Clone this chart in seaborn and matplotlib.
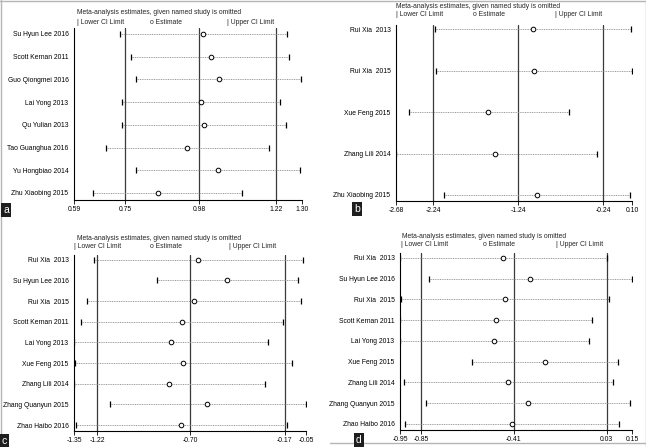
import matplotlib
matplotlib.use("Agg")
import matplotlib.pyplot as plt
from matplotlib.lines import Line2D
import seaborn as sns
import pandas as pd

sns.set_style("white")
plt.rcParams['font.family'] = ['Liberation Sans', 'DejaVu Sans']

W, H = 646, 447
FS = 4.9

# ---------------- data ----------------
studies_a = ["Su Hyun Lee 2016", "Scott Kernan 2011", "Guo Qiongmei 2016", "Lai Yong 2013",
             "Qu Yulian 2013", "Tao Guanghua 2016", "Yu Hongbiao 2014", "Zhu Xiaobing 2015"]
lower_a = [0.733, 0.769, 0.784, 0.741, 0.740, 0.689, 0.782, 0.650]
est_a = [0.992, 1.016, 1.040, 0.986, 0.996, 0.941, 1.037, 0.853]
upper_a = [1.253, 1.260, 1.297, 1.232, 1.251, 1.196, 1.294, 1.112]
ticks_a = [0.59, 0.75, 0.98, 1.22, 1.30]
ref_a = [0.75, 0.98, 1.22]

studies_b = ["Rui Xia  2013", "Rui Xia  2015", "Xue Feng 2015", "Zhang Lili 2014", "Zhu Xiaobing 2015"]
lower_b = [-2.221, -2.209, -2.523, -2.68, -2.111]
est_b = [-1.066, -1.059, -1.600, -1.514, -1.023]
upper_b = [0.092, 0.10, -0.646, -0.316, 0.077]
ticks_b = [-2.68, -2.24, -1.24, -0.24, 0.10]
ref_b = [-2.24, -1.24, -0.24]

studies_c = ["Rui Xia  2013", "Su Hyun Lee 2016", "Rui Xia  2015", "Scott Kernan 2011", "Lai Yong 2013",
             "Xue Feng 2015", "Zhang Lili 2014", "Zhang Quanyun 2015", "Zhao Haibo 2016"]
lower_c = [-1.236, -0.887, -1.277, -1.311, -1.35, -1.343, -1.35, -1.150, -1.341]
est_c = [-0.655, -0.493, -0.679, -0.745, -0.808, -0.739, -0.818, -0.603, -0.752]
upper_c = [-0.065, -0.093, -0.078, -0.177, -0.265, -0.130, -0.280, -0.05, -0.156]
ticks_c = [-1.35, -1.22, -0.70, -0.17, -0.05]
ref_c = [-1.22, -0.70, -0.17]

studies_d = ["Rui Xia  2013", "Su Hyun Lee 2016", "Rui Xia  2015", "Scott Kernan 2011", "Lai Yong 2013",
             "Xue Feng 2015", "Zhang Lili 2014", "Zhang Quanyun 2015", "Zhao Haibo 2016"]
lower_d = [-0.95, -0.814, -0.947, -0.95, -0.95, -0.609, -0.933, -0.825, -0.928]
est_d = [-0.460, -0.332, -0.452, -0.495, -0.506, -0.262, -0.436, -0.343, -0.421]
upper_d = [0.030, 0.15, 0.043, -0.038, -0.055, 0.082, 0.060, 0.141, 0.087]
ticks_d = [-0.95, -0.85, -0.41, 0.03, 0.15]
ref_d = [-0.85, -0.41, 0.03]

title_text = "Meta-analysis estimates, given named study is omitted"

fig = plt.figure(figsize=(W / 100, H / 100), dpi=100)


def fx(x):
    return x / W


def fy(y):
    return 1 - y / H


def draw(box, studies, lo, est, up, ticks, ref, pads, title_pos, leg, label, label_pos):
    x0, y0, x1, y1 = box
    ax = fig.add_axes([fx(x0), fy(y1), (x1 - x0) / W, (y1 - y0) / H])
    n = len(studies)
    df = pd.DataFrame({"study": studies, "pos": list(range(n)),
                       "lower": lo, "est": est, "upper": up})
    for v in ref:
        ax.axvline(v, color="#3a3a3a", lw=0.9, zorder=1)
    ax.hlines(df["pos"], df["lower"], df["upper"], colors="#8c8c8c",
              linestyles=(0, (1.2, 0.9)), lw=0.6, zorder=2)
    sns.scatterplot(data=df, x="lower", y="pos", marker="|", s=24, color="black",
                    linewidth=0.9, ax=ax, zorder=3, legend=False)
    sns.scatterplot(data=df, x="upper", y="pos", marker="|", s=24, color="black",
                    linewidth=0.9, ax=ax, zorder=3, legend=False)
    sns.scatterplot(data=df, x="est", y="pos", marker="o", s=11, facecolor="white",
                    edgecolor="black", linewidth=0.7, ax=ax, zorder=4, legend=False)
    ax.set_xlim(ticks[0], ticks[-1])
    ax.set_ylim(n - 1 + pads[1], -pads[0])
    ax.set_xticks(ticks)
    ax.set_xticklabels([f"{t:.2f}" for t in ticks])
    ax.set_yticks(list(range(n)))
    ax.set_yticklabels(studies)
    ax.set_xlabel("")
    ax.set_ylabel("")
    for s in ["top", "right"]:
        ax.spines[s].set_visible(False)
    for s in ["left", "bottom"]:
        ax.spines[s].set_color("black")
        ax.spines[s].set_linewidth(0.8)
    ax.tick_params(axis="x", bottom=True, length=3, width=0.6, direction="out",
                   labelsize=FS, pad=1.5, colors="black")
    ax.tick_params(axis="y", left=False, length=0, labelsize=FS, pad=4, colors="black")
    ax.set_facecolor("white")
    fig.text(fx(title_pos[0]), fy(title_pos[1]), title_text, fontsize=FS,
             ha="left", va="center")
    ly = leg[0]
    fig.text(fx(leg[1]), fy(ly), "| Lower CI Limit", fontsize=FS, ha="left", va="center")
    fig.text(fx(leg[2]), fy(ly), "o Estimate", fontsize=FS, ha="left", va="center")
    fig.text(fx(leg[3]), fy(ly), "| Upper CI Limit", fontsize=FS, ha="left", va="center")
    fig.text(fx(label_pos[0]), fy(label_pos[1]), label, fontsize=7.5, color="white",
             ha="left", va="center",
             bbox=dict(boxstyle="square,pad=0.18", facecolor="#1e1e1e", edgecolor="none"))
    return ax


draw((74, 28, 302, 200), studies_a, lower_a, est_a, upper_a, ticks_a, ref_a,
     (0.26, 0.31), (77, 13), (22, 77, 150, 227), "a", (3, 210))
draw((396, 25, 632, 201), studies_b, lower_b, est_b, upper_b, ticks_b, ref_b,
     (0.10, 0.145), (396, 7), (15, 396, 473, 555), "b", (354, 209))
draw((74, 255, 306, 431), studies_c, lower_c, est_c, upper_c, ticks_c, ref_c,
     (0.23, 0.29), (77, 238), (247, 74, 150, 229), "c", (2, 441))
draw((400, 253, 632, 430), studies_d, lower_d, est_d, upper_d, ticks_d, ref_d,
     (0.23, 0.30), (402, 236), (245, 401, 483, 556), "d", (356, 440))

# light frame lines
frame_col = "#b5b5b5"
fig.add_artist(Line2D([0, 1], [fy(0.5), fy(0.5)], color=frame_col, lw=1.0))
fig.add_artist(Line2D([fx(0.5), fx(0.5)], [0, 1], color=frame_col, lw=1.0))
fig.add_artist(Line2D([fx(645.5), fx(645.5)], [0, 1], color=frame_col, lw=1.0))
fig.add_artist(Line2D([fx(330), 1], [fy(443), fy(443)], color=frame_col, lw=1.0))

fig.savefig("out.png", dpi=100, facecolor="white")
